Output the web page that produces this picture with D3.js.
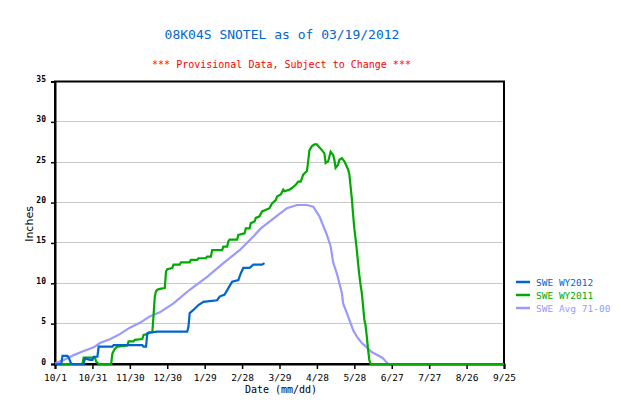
<!DOCTYPE html>
<html><head><meta charset="utf-8">
<script src="https://cdn.jsdelivr.net/npm/d3@7"></script>
<style>body{margin:0;background:#fff}svg{display:block}</style>
</head><body><svg id="c" width="621" height="414"></svg>
<script>
// Day offsets from 10/1 and SWE values (inches)
const tickDays = [0,30,60,90,120,150,180,210,240,270,300,330,360];
const tickLabels = ["10/1","10/31","11/30","12/30","1/29","2/28","3/29","4/28","5/28","6/27","7/27","8/26","9/25"];
const yTicks = [0,5,10,15,20,25,30,35];

const wy2012Days = [0,5,6,10,11,13,23,24,26,28,30,31,34,35,46,47,70,71,73,74,76,82,106,107,108,111,115,119,124,130,132,136,139,142,147,149,151,156,159,166,168];
const wy2012Swe  = [0,0,1.0,1.0,0.8,0,0,0.7,0.6,0.5,0.5,0.9,0.9,2.15,2.15,2.35,2.35,2.15,2.15,3.8,3.9,4.0,4.0,4.6,6.3,6.7,7.3,7.7,7.8,7.9,8.35,8.6,9.4,10.2,10.4,11.25,11.9,11.9,12.3,12.3,12.5];

const wy2011Days = [0,22,23,32,33,35,45,46,48,50,58,59,63,64,70,71,74,75,78,79,80,81,82,84,88,89,90,94,95,100,101,108,109,114,115,121,122,125,126,134,135,138,139,140,146,147,152,153,156,157,160,161,164,166,172,174,177,178,181,183,184,188,190,193,195,197,199,202,203,204,206,208,210,211,214,216,217,219,221,223,224,225,227,228,230,232,235,236,237,238,239,240,241,242,243,244,245,246,247,248,249,250,251,252,253,360];
const wy2011Swe  = [0,0,0.8,0.8,0.3,0,0,1.3,1.9,2.15,2.3,2.8,2.8,3.0,3.1,3.6,3.7,3.9,3.9,6.0,8.35,9.0,9.2,9.3,9.4,11.45,11.75,11.9,12.3,12.3,12.6,12.6,12.9,12.9,13.1,13.1,13.3,13.3,14.1,14.1,14.55,14.55,15.2,15.4,15.4,16.0,16.2,16.8,16.8,17.45,17.65,18.1,18.3,18.9,19.3,19.9,20.3,20.75,21.0,21.6,21.4,21.6,21.8,22.2,22.6,22.6,23.45,23.9,25.1,26.5,27.0,27.2,27.2,27.0,26.5,26.1,24.9,25.1,26.3,25.9,25.3,24.3,24.7,25.3,25.5,25.1,24.1,23.5,22.0,20.5,18.5,16.8,15.5,14.1,12.5,11.0,9.8,8.8,7.2,5.5,4.8,3.4,1.8,0.5,0,0];

const avgDays = [0,7,15,23,31,36,44,52,60,68,76,84,95,108,122,135,148,159,165,172,180,186,194,202,207,212,218,221,223,226,230,231,234,237,239,242,246,248,253,255,261,263,267,360];
const avgSwe  = [0.1,0.5,1.1,1.6,2.07,2.6,3.06,3.7,4.5,5.1,5.9,6.4,7.5,9.2,10.8,12.5,14.1,15.8,16.8,17.65,18.6,19.3,19.7,19.7,19.5,18.3,16.0,14.6,12.6,11.2,8.8,7.5,6.3,5.05,4.2,3.4,2.6,2.35,1.6,1.4,0.9,0.7,0,0];

const svg = d3.select("#c");
const L = 55, R = 504, T = 81.5, B = 364;
const x = d3.scaleLinear().domain([0,360]).range([L,R]);
const y = d3.scaleLinear().domain([0,35]).range([B,T]);

// titles
svg.append("text").attr("x",282).attr("y",39).attr("text-anchor","middle")
  .attr("font-family","DejaVu Sans Mono").attr("font-size",13).attr("fill","#0066cc")
  .text("08K04S SNOTEL as of 03/19/2012");
svg.append("text").attr("x",281.5).attr("y",67.5).attr("text-anchor","middle")
  .attr("font-family","DejaVu Sans Mono").attr("font-size",10).attr("fill","#ff0000")
  .text("*** Provisional Data, Subject to Change ***");

// gridlines
svg.append("g").selectAll("line").data(yTicks.filter(v=>v>0 && v<35)).join("line")
  .attr("x1",L).attr("x2",R).attr("y1",d=>y(d)).attr("y2",d=>y(d))
  .attr("stroke","#c8c8c8").attr("stroke-width",1).attr("shape-rendering","crispEdges");

// frame
svg.append("rect").attr("x",L).attr("y",T).attr("width",R-L).attr("height",B-T)
  .attr("fill","none").attr("stroke","#000").attr("stroke-width",2);

// axes
const ya = svg.append("g").attr("transform",`translate(${L},0)`)
  .call(d3.axisLeft(y).tickValues(yTicks).tickSize(4).tickPadding(5).tickFormat(d3.format("d")));
ya.select(".domain").attr("stroke-width",2);
ya.selectAll(".tick line").attr("stroke-width",1.5);
ya.selectAll("text").attr("font-family","DejaVu Sans Mono").attr("font-size",8).attr("font-weight","bold").attr("dy","0");

const xa = svg.append("g").attr("transform",`translate(0,${B})`)
  .call(d3.axisBottom(x).tickValues(tickDays).tickSize(5).tickPadding(5).tickFormat((d,i)=>tickLabels[i]));
xa.select(".domain").attr("stroke-width",2);
xa.selectAll(".tick line").attr("stroke-width",1.5);
xa.selectAll("text").attr("font-family","DejaVu Sans Mono").attr("font-size",9.5).attr("fill","#000");

svg.append("text").attr("x",281).attr("y",393).attr("text-anchor","middle")
  .attr("font-family","DejaVu Sans Mono").attr("font-size",10).text("Date (mm/dd)");
svg.append("text").attr("transform","translate(33,224) rotate(-90)").attr("text-anchor","middle")
  .attr("font-family","DejaVu Sans").attr("font-size",11).text("Inches");

// series
const line = d3.line().x(d=>x(d[0])).y(d=>y(d[1]));
const series = [
  {days:avgDays, vals:avgSwe, color:"#9999ff", name:"SWE Avg 71-00"},
  {days:wy2011Days, vals:wy2011Swe, color:"#00aa00", name:"SWE WY2011"},
  {days:wy2012Days, vals:wy2012Swe, color:"#0066cc", name:"SWE WY2012"}
];
series.forEach(s=>{
  svg.append("path").datum(s.days.map((d,i)=>[d,s.vals[i]]))
    .attr("d",line).attr("fill","none").attr("stroke",s.color).attr("stroke-width",2.2)
    .attr("stroke-linejoin","miter");
});

// legend
const leg = [series[2],series[1],series[0]];
leg.forEach((s,i)=>{
  const ly = 282 + i*13;
  svg.append("line").attr("x1",516).attr("x2",530).attr("y1",ly).attr("y2",ly)
    .attr("stroke",s.color).attr("stroke-width",2.5);
  svg.append("text").attr("x",536).attr("y",ly+3.5).attr("font-family","DejaVu Sans Mono")
    .attr("font-size",9.5).attr("fill",s.color).text(s.name);
});
</script></body></html>
